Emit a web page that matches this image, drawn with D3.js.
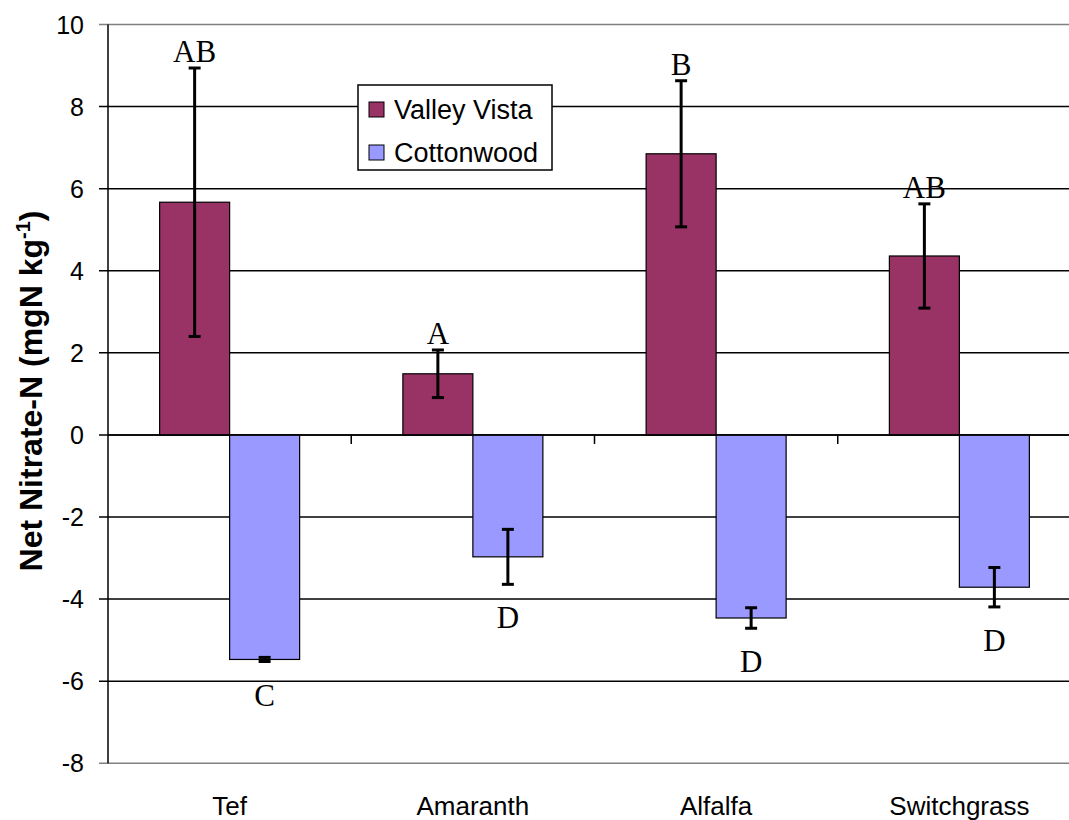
<!DOCTYPE html>
<html lang="en">
<head>
    <meta charset="UTF-8">
    <title>Net Nitrate-N</title>
    <script src="https://cdn.jsdelivr.net/npm/d3@7"></script>
    <style>
        body { margin: 0; background: #fff; }
    </style>
</head>
<body>
<script type="text/javascript">
    var categories = ['Tef', 'Amaranth', 'Alfalfa', 'Switchgrass'];
    var seriesNames = ['Valley Vista', 'Cottonwood'];
    var valleyVista = [5.67, 1.49, 6.85, 4.36];
    var valleyVistaErr = [3.27, 0.58, 1.78, 1.27];
    var cottonwood = [-5.47, -2.97, -4.46, -3.71];
    var cottonwoodErr = [0.05, 0.67, 0.25, 0.48];
    var valleyVistaLetters = ['AB', 'A', 'B', 'AB'];
    var cottonwoodLetters = ['C', 'D', 'D', 'D'];
    var yTicks = [-8, -6, -4, -2, 0, 2, 4, 6, 8, 10];
    var colors = ['#993366', '#9999FF'];

    var width = 1069;
    var height = 820;
    var margin = {top: 24.5, left: 108, bottom: 56.7};
    var plotRight = 1081;

    var svg = d3.select('body').append('svg')
            .attr('width', width)
            .attr('height', height);

    var x = d3.scaleBand()
            .domain(categories)
            .range([margin.left, plotRight]);
    var x1 = d3.scaleBand()
            .domain(seriesNames)
            .range([0, 140]);
    var y = d3.scaleLinear()
            .domain([-8, 10])
            .range([height - margin.bottom, margin.top]);

    // gridlines
    svg.append('g')
            .selectAll('line')
            .data(yTicks)
            .enter()
            .append('line')
            .attr('x1', margin.left - 9)
            .attr('x2', plotRight)
            .attr('y1', function (d) { return y(d); })
            .attr('y2', function (d) { return y(d); })
            .attr('stroke', function (d) {
                return (d === 10 || d === -8) ? '#808080' : '#000';
            })
            .attr('stroke-width', 1.5);

    // y tick labels
    svg.append('g')
            .selectAll('text')
            .data(yTicks)
            .enter()
            .append('text')
            .attr('x', 84)
            .attr('y', function (d) { return y(d); })
            .attr('dy', '0.36em')
            .attr('text-anchor', 'end')
            .attr('font-family', 'Liberation Sans, Arial, sans-serif')
            .attr('font-size', 25)
            .text(function (d) { return d; });

    var series = [
        {name: seriesNames[0], values: valleyVista, err: valleyVistaErr, letters: valleyVistaLetters, color: colors[0]},
        {name: seriesNames[1], values: cottonwood, err: cottonwoodErr, letters: cottonwoodLetters, color: colors[1]}
    ];

    var groups = svg.selectAll('g.cat')
            .data(categories)
            .enter()
            .append('g')
            .attr('class', 'cat')
            .attr('transform', function (d) {
                return 'translate(' + (x(d) + x.bandwidth() / 2 - 70) + ',0)';
            });

    groups.each(function (cat, i) {
        var g = d3.select(this);
        series.forEach(function (s) {
            var v = s.values[i];
            g.append('rect')
                    .attr('x', x1(s.name))
                    .attr('width', x1.bandwidth())
                    .attr('y', y(Math.max(0, v)))
                    .attr('height', Math.abs(y(v) - y(0)))
                    .attr('fill', s.color)
                    .attr('stroke', '#000')
                    .attr('stroke-width', 1.2);
        });
    });

    // zero axis line + category ticks
    svg.append('line')
            .attr('x1', margin.left)
            .attr('x2', plotRight)
            .attr('y1', y(0))
            .attr('y2', y(0))
            .attr('stroke', '#000')
            .attr('stroke-width', 1.5);
    svg.append('g')
            .selectAll('line')
            .data(categories.slice(1))
            .enter()
            .append('line')
            .attr('x1', function (d) { return x(d); })
            .attr('x2', function (d) { return x(d); })
            .attr('y1', y(0))
            .attr('y2', y(0) + 9)
            .attr('stroke', '#000')
            .attr('stroke-width', 1.5);

    // error bars and letters
    groups.each(function (cat, i) {
        var g = d3.select(this);
        series.forEach(function (s) {
            var v = s.values[i];
            var e = s.err[i];
            var cx = x1(s.name) + x1.bandwidth() / 2;
            g.append('line')
                    .attr('x1', cx).attr('x2', cx)
                    .attr('y1', y(v + e)).attr('y2', y(v - e))
                    .attr('stroke', '#000')
                    .attr('stroke-width', 3);
            [v + e, v - e].forEach(function (ev) {
                g.append('line')
                        .attr('x1', cx - 6).attr('x2', cx + 6)
                        .attr('y1', y(ev)).attr('y2', y(ev))
                        .attr('stroke', '#000')
                        .attr('stroke-width', 3);
            });
            var ly = v >= 0 ? y(v + e) - 6 : y(v - e) + 44;
            g.append('text')
                    .attr('x', cx)
                    .attr('y', ly)
                    .attr('text-anchor', 'middle')
                    .attr('font-family', 'Liberation Serif, Times New Roman, serif')
                    .attr('font-size', 31)
                    .text(s.letters[i]);
        });
    });

    // y axis
    svg.append('line')
            .attr('x1', margin.left)
            .attr('x2', margin.left)
            .attr('y1', y(10))
            .attr('y2', y(-8))
            .attr('stroke', '#000')
            .attr('stroke-width', 1.5);

    // x labels
    svg.append('g')
            .selectAll('text')
            .data(categories)
            .enter()
            .append('text')
            .attr('x', function (d) { return x(d) + x.bandwidth() / 2; })
            .attr('y', 815)
            .attr('text-anchor', 'middle')
            .attr('font-family', 'Liberation Sans, Arial, sans-serif')
            .attr('font-size', 26)
            .text(function (d) { return d; });

    // y title
    var title = svg.append('text')
            .attr('transform', 'translate(42,391) rotate(-90)')
            .attr('text-anchor', 'middle')
            .attr('font-family', 'Liberation Sans, Arial, sans-serif')
            .attr('font-weight', 'bold')
            .attr('font-size', 32);
    title.append('tspan').text('Net Nitrate-N (mgN kg');
    title.append('tspan').attr('dy', -12).attr('font-size', 20).text('-1');
    title.append('tspan').attr('dy', 12).text(')');

    // legend
    var legend = svg.append('g').attr('transform', 'translate(358,85)');
    legend.append('rect')
            .attr('width', 194)
            .attr('height', 85)
            .attr('fill', '#fff')
            .attr('stroke', '#000')
            .attr('stroke-width', 1.5);
    var items = legend.selectAll('g')
            .data(series)
            .enter()
            .append('g')
            .attr('transform', function (d, i) {
                return 'translate(0,' + (i * 43) + ')';
            });
    items.append('rect')
            .attr('x', 11)
            .attr('y', 17)
            .attr('width', 15)
            .attr('height', 15)
            .attr('fill', function (d) { return d.color; })
            .attr('stroke', '#000')
            .attr('stroke-width', 1);
    items.append('text')
            .attr('x', 36)
            .attr('y', 34)
            .attr('font-family', 'Liberation Sans, Arial, sans-serif')
            .attr('font-size', 27)
            .text(function (d) { return d.name; });
</script>
</body>
</html>
